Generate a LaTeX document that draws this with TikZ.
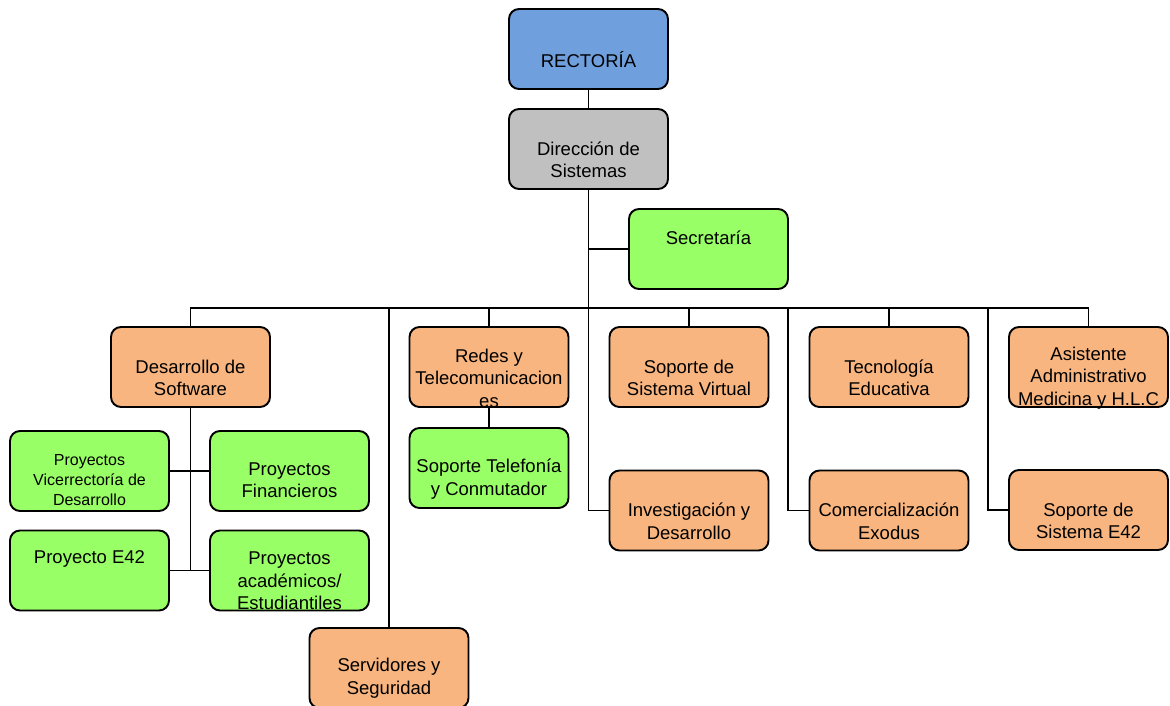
\documentclass[tikz,border=0pt]{standalone}
\usepackage{fontspec}
\setmainfont{Liberation Sans}
\definecolor{cblue}{HTML}{6F9FDC}
\definecolor{cgray}{HTML}{C0C0C0}
\definecolor{cgreen}{HTML}{99FF66}
\definecolor{corange}{HTML}{F8B57F}
\begin{document}
\begin{tikzpicture}[x=1pt,y=-1pt,
  unit/.style={draw=black, line width=1.9pt, rounded corners=10pt,
    minimum width=159pt, minimum height=80pt, inner sep=0pt},
  txt/.style={align=center, inner sep=0pt, text=black,
    font=\fontsize{18.5}{22.5}\selectfont},
  smalltxt/.style={align=center, inner sep=0pt, text=black,
    font=\fontsize{16}{20}\selectfont},
  link/.style={draw=black, line width=1.8pt}]
\useasboundingbox (0,0) rectangle (1170,706);
\fill[white] (0,0) rectangle (1170,706);

% boxes
\node[unit, fill=cblue]   (rect) at (588.5,49) {};
\node[unit, fill=cgray]   (dir)  at (588.5,149) {};
\node[unit, fill=cgreen]  (sec)  at (708.5,249) {};
\node[unit, fill=corange] (dev)  at (190.5,367) {};
\node[unit, fill=corange] (red)  at (489,367) {};
\node[unit, fill=corange] (svv)  at (689,367) {};
\node[unit, fill=corange] (tec)  at (889,367) {};
\node[unit, fill=corange] (asi)  at (1088.5,367) {};
\node[unit, fill=corange] (inv)  at (689,510.5) {};
\node[unit, fill=corange] (com)  at (889,510.5) {};
\node[unit, fill=corange] (se42) at (1088.5,510) {};
\node[unit, fill=cgreen]  (pvd)  at (89.5,471) {};
\node[unit, fill=cgreen]  (pfi)  at (289.5,471) {};
\node[unit, fill=cgreen]  (pe42) at (89.5,570.5) {};
\node[unit, fill=cgreen]  (pac)  at (289.5,570.5) {};
\node[unit, fill=cgreen]  (tel)  at (489,468) {};
\node[unit, fill=corange] (srv)  at (389,668) {};

% connectors
\coordinate (bus) at (588.5,308);
\coordinate (cx) at (788,308);
\coordinate (ex) at (988,308);
\coordinate (dj) at (190.5,570.5);
\draw[link] (rect.south) -- (dir.north);
\draw[link] (dir.south) |- (inv.west);
\draw[link] (sec.west) -- (sec.west -| dir.south);
\draw[link] (dev.north) -- (dev.north |- bus) -- (asi.north |- bus) -- (asi.north);
\draw[link] (red.north) -- (red.north |- bus);
\draw[link] (svv.north) -- (svv.north |- bus);
\draw[link] (tec.north) -- (tec.north |- bus);
\draw[link] (srv.north) -- (srv.north |- bus);
\draw[link] (cx) |- (com.west);
\draw[link] (ex) |- (se42.west);
\draw[link] (dev.south) -- (dj);
\draw[link] (pvd.east) -- (pfi.west);
\draw[link] (pe42.east) -- (pac.west);
\draw[link] (red.south) -- (tel.north);

% labels
\node[txt] (trect) at ([yshift=-11pt]rect.center) {RECTORÍA};
\node[txt] (tdir)  at ([yshift=-11pt]dir.center) {Dirección de\\Sistemas};
\node[txt] (tsec)  at ([yshift=11pt]sec.center) {Secretaría};
\node[txt] (tdev)  at ([yshift=-11pt]dev.center) {Desarrollo de\\Software};
\node[txt] (tred)  at ([yshift=-11pt]red.center) {Redes y\\Telecomunicacion\\es};
\node[txt] (tsvv)  at ([yshift=-11pt]svv.center) {Soporte de\\Sistema Virtual};
\node[txt] (ttec)  at ([yshift=-11pt]tec.center) {Tecnología\\Educativa};
\node[txt] (tasi)  at ([yshift=-11pt]asi.center) {Asistente\\Administrativo\\Medicina y H.L.C};
\node[txt] (tinv)  at ([yshift=-11pt]inv.center) {Investigación y\\Desarrollo};
\node[txt] (tcom)  at ([yshift=-11pt]com.center) {Comercialización\\Exodus};
\node[txt] (tse42) at ([yshift=-11pt]se42.center) {Soporte de\\Sistema E42};
\node[smalltxt] (tpvd) at ([yshift=-9pt]pvd.center) {Proyectos\\Vicerrectoría de\\Desarrollo};
\node[txt] (tpfi)  at ([yshift=-9pt]pfi.center) {Proyectos\\Financieros};
\node[txt] (tpe42) at ([yshift=12pt]pe42.center) {Proyecto E42};
\node[txt] (tpac)  at ([yshift=-10.5pt]pac.center) {Proyectos\\académicos/\\Estudiantiles};
\node[txt] (ttel)  at ([yshift=-11pt]tel.center) {Soporte Telefonía\\y Conmutador};
\node[txt] (tsrv)  at ([yshift=-10pt]srv.center) {Servidores y\\Seguridad};
\end{tikzpicture}
\end{document}
